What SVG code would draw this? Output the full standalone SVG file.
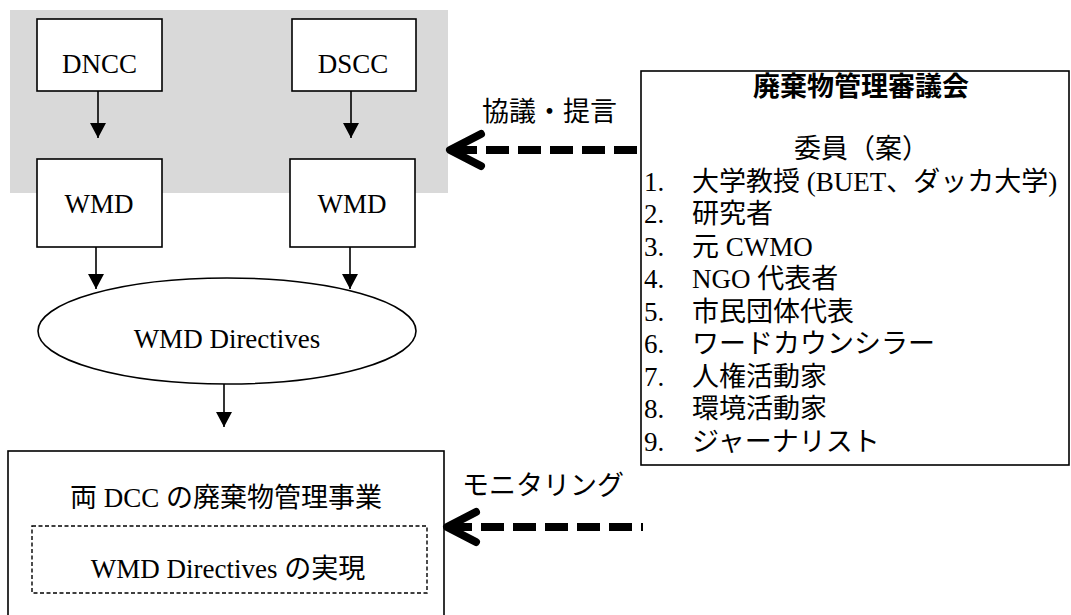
<svg xmlns="http://www.w3.org/2000/svg" width="1071" height="615" viewBox="0 0 1071 615">
<style>
text{font-family:"Liberation Serif","Times New Roman","Noto Sans CJK JP",serif;font-size:27px;fill:#000}
.c{text-anchor:middle}
.box{fill:#fff;stroke:#000;stroke-width:1.6}
.thin{stroke:#000;stroke-width:1.6;fill:none}
.dash{stroke:#000;stroke-width:8;stroke-dasharray:23 9;fill:none}
.head{stroke:#000;stroke-width:8;fill:none;stroke-linecap:round;stroke-linejoin:round}
</style>
<defs>
<marker id="tri" viewBox="0 0 15 16" refX="15" refY="8" markerWidth="15" markerHeight="16" markerUnits="userSpaceOnUse" orient="auto">
<path d="M0,0 L15,8 L0,16 Z" fill="#000"/>
</marker>
</defs>
<rect id="bg" x="10" y="10" width="438" height="183" fill="#d9d9d9"/>
<g id="dncc"><rect class="box" x="37" y="19" width="125" height="72"/><text class="c" x="99.5" y="73" font-family="Liberation Serif, serif">DNCC</text></g>
<g id="dscc"><rect class="box" x="292" y="19" width="124" height="72"/><text class="c" x="353" y="73" font-family="Liberation Serif, serif">DSCC</text></g>
<g id="wmd1"><rect class="box" x="37" y="159" width="125" height="88"/><text class="c" x="99" y="213" font-family="Liberation Serif, serif">WMD</text></g>
<g id="wmd2"><rect class="box" x="290" y="159" width="125" height="88"/><text class="c" x="352" y="213" font-family="Liberation Serif, serif">WMD</text></g>
<g id="directives"><ellipse class="box" cx="227" cy="331" rx="189" ry="53"/><text class="c" x="227" y="348" font-family="Liberation Serif, serif">WMD Directives</text></g>
<g id="project">
<rect class="box" x="8" y="451" width="436" height="175"/>
<text class="c" x="226" y="507">両 DCC の廃棄物管理事業</text>
<rect x="32" y="526" width="395" height="67" fill="none" stroke="#000" stroke-width="1.4" stroke-dasharray="4 2.5"/>
<text class="c" x="228" y="578">WMD Directives の実現</text>
</g>
<g id="council">
<rect class="box" x="641" y="71" width="428" height="394"/>
<text class="c" x="861" y="96" font-weight="bold">廃棄物管理審議会</text>
<text x="794" y="158">委員（案）</text>
<text x="644" y="191">1.</text><text x="692" y="191">大学教授 (BUET、ダッカ大学)</text>
<text x="644" y="223">2.</text><text x="692" y="223">研究者</text>
<text x="644" y="256">3.</text><text x="692" y="256">元 CWMO</text>
<text x="644" y="288">4.</text><text x="692" y="288">NGO 代表者</text>
<text x="644" y="321">5.</text><text x="692" y="321">市民団体代表</text>
<text x="644" y="353">6.</text><text x="692" y="353">ワードカウンシラー</text>
<text x="644" y="386">7.</text><text x="692" y="386">人権活動家</text>
<text x="644" y="418">8.</text><text x="692" y="418">環境活動家</text>
<text x="644" y="451">9.</text><text x="692" y="451">ジャーナリスト</text>
</g>
<g id="connectors">
<line class="thin" x1="98" y1="91" x2="98" y2="138" marker-end="url(#tri)"/>
<line class="thin" x1="351" y1="91" x2="351" y2="138" marker-end="url(#tri)"/>
<line class="thin" x1="96" y1="247" x2="96" y2="289" marker-end="url(#tri)"/>
<line class="thin" x1="350" y1="247" x2="350" y2="289" marker-end="url(#tri)"/>
<line class="thin" x1="224" y1="384" x2="224" y2="427" marker-end="url(#tri)"/>
<line class="dash" x1="454" y1="150" x2="640" y2="150"/>
<polyline class="head" points="481,134 450,150 481,166"/>
<text x="482" y="121">協議・提言</text>
<line class="dash" x1="449" y1="527" x2="643" y2="527"/>
<polyline class="head" points="476,512 447,527 476,542"/>
<text x="462" y="495">モニタリング</text>
</g>
</svg>
